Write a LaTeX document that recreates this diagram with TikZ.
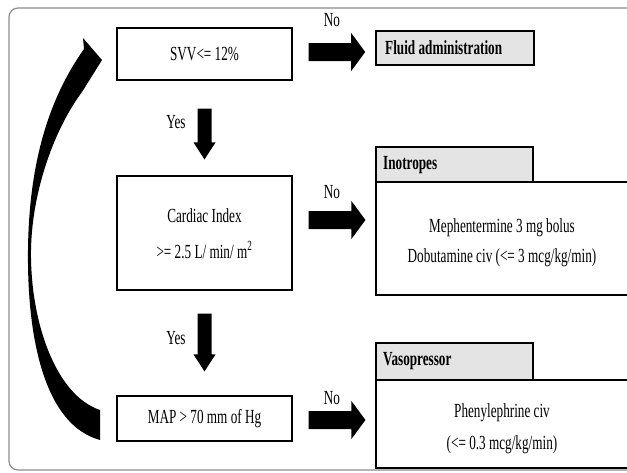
\documentclass[tikz,border=0pt]{standalone}
\usepackage{fontspec}
\setmainfont{Liberation Serif}[FakeStretch=0.66]
\usetikzlibrary{calc}
\definecolor{tabgray}{HTML}{E4E4E4}
\definecolor{framegray}{HTML}{8C8C8C}
\tikzset{
  box/.style={draw=black, line width=1.1pt, fill=white, inner sep=0pt},
  tabbox/.style={draw=black, line width=1.1pt, fill=tabgray, inner sep=0pt},
  txt/.style={font=\fontsize{20}{24}\selectfont, inner sep=0pt},
  btxt/.style={font=\fontsize{20}{24}\selectfont\bfseries, inner sep=0pt, anchor=west},
}
\newcommand{\harrow}[2]{%
  \fill[black] let \p1=(#1), \p2=(#2) in
    (\x1,\y1-9) -- (\x2-14,\y1-9) -- (\x2-14,\y1-19) -- (\x2,\y1)
    -- (\x2-14,\y1+19) -- (\x2-14,\y1+9) -- (\x1,\y1+9) -- cycle;}
\newcommand{\varrow}[2]{%
  \fill[black] let \p1=(#1), \p2=(#2) in
    (\x1-7,\y1) -- (\x1-7,\y2+17) -- (\x1-11,\y2+17) -- (\x1,\y2)
    -- (\x1+11,\y2+17) -- (\x1+7,\y2+17) -- (\x1+7,\y1) -- cycle;}
\begin{document}
\begin{tikzpicture}[x=1pt,y=-1pt]
\useasboundingbox (0,0) rectangle (627,472);
\clip (0,0) rectangle (627,472);
% outer frame
\draw[framegray, line width=1.2pt, rounded corners=9pt] (9,8) rectangle (650,470);

% decision boxes
\node[box, minimum width=175pt, minimum height=52pt, txt] (svv) at (204.5,54) {SVV<= 12\%};
\node[box, minimum width=175pt, minimum height=114pt] (ci) at (204.5,233) {};
\node[txt] (ci1) at (204.5,216) {Cardiac Index};
\node[txt] (ci2) at (204.5,250) {>= 2.5 L/ min/ m\textsuperscript{2}};
\node[box, minimum width=175pt, minimum height=45pt, txt] (map) at (204.5,418.5) {MAP > 70 mm of Hg};

% action boxes
\node[tabbox, line width=1.6pt, minimum width=158pt, minimum height=34pt] (fluid) at (455,48) {};
\node[btxt] (fluidt) at (385,48) {Fluid administration};

\node[box, minimum width=253pt, minimum height=113pt] (ino) at (502.5,238.5) {};
\node[tabbox, minimum width=157pt, minimum height=35pt] (inotab) at (454.5,164.5) {};
\node[btxt] (inot) at (383,165) {Inotropes};
\node[txt] (ino1) at (502,228) {Mephentermine 3 mg bolus};
\node[txt] (ino2) at (502,258) {Dobutamine civ (<= 3 mcg/kg/min)};

\node[box, minimum width=253pt, minimum height=88pt] (vaso) at (502.5,424) {};
\node[tabbox, minimum width=157pt, minimum height=37pt] (vasotab) at (454.5,361.5) {};
\node[btxt] (vasot) at (383,361) {Vasopressor};
\node[txt] (vaso1) at (502,413) {Phenylephrine civ};
\node[txt] (vaso2) at (502,445) {(<= 0.3 mcg/kg/min)};

% block arrows
\coordinate (a1s) at ($(svv.east)+(16,-2)$);
\coordinate (a1e) at ($(fluid.west)+(-10,4)$);
\harrow{a1s}{a1e}
\coordinate (a2s) at ($(ci.east)+(16,-13)$);
\coordinate (a2e) at ($(ino.west)+(-10,-18.5)$);
\harrow{a2s}{a2e}
\coordinate (a3s) at ($(map.east)+(16,1.5)$);
\coordinate (a3e) at ($(vaso.west)+(-10,-4)$);
\harrow{a3s}{a3e}

\coordinate (v1s) at ($(svv.south)+(0,28)$);
\coordinate (v1e) at ($(ci.north)+(0,-16)$);
\varrow{v1s}{v1e}
\coordinate (v2s) at ($(ci.south)+(0,23)$);
\coordinate (v2e) at ($(map.north)+(0,-24)$);
\varrow{v2s}{v2e}

% labels
\node[txt] (no1) at (332,20) {No};
\node[txt] (no2) at (332,192) {No};
\node[txt] (no3) at (332,398) {No};
\node[txt] (yes1) at (176,122) {Yes};
\node[txt] (yes2) at (176,338) {Yes};

% curved loop arrow from MAP back to SVV
\fill[black] (100,440) .. controls (45,425) and (27,340) .. (28,250)
  .. controls (29,160) and (50,97) .. (84,49)
  -- (83,38) -- (102,60) -- (82,92)
  .. controls (55,128) and (32,190) .. (31,250)
  .. controls (30,320) and (55,395) .. (100,410) -- cycle;
\end{tikzpicture}
\end{document}
